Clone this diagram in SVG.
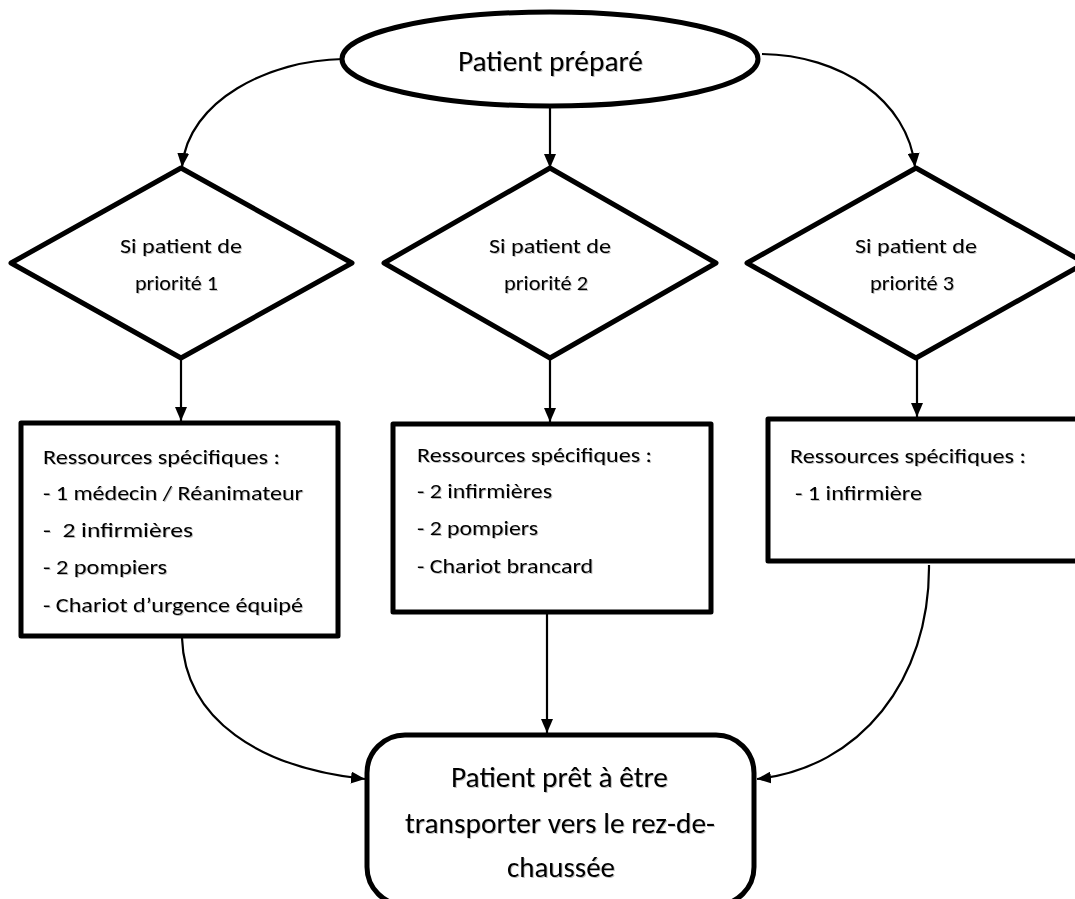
<svg xmlns="http://www.w3.org/2000/svg" width="1075" height="899" viewBox="0 0 1075 899">
  <defs>
    <marker id="arrow" viewBox="0 0 14 12" refX="14" refY="6" markerWidth="14" markerHeight="12" markerUnits="userSpaceOnUse" orient="auto">
      <path d="M0,0 L14,6 L0,12 z" fill="#000"/>
    </marker>
    <filter id="shadow" x="-5%" y="-20%" width="110%" height="140%">
      <feDropShadow dx="1" dy="1" stdDeviation="0.6" flood-color="#000" flood-opacity="0.25"/>
    </filter>
  </defs>
  <style>
    .shape { fill: #fff; stroke: #000; stroke-width: 5; stroke-linejoin: round; }
    .link-arrow { fill: none; stroke: #000; stroke-width: 2.2; marker-end: url(#arrow); }
    text { font-family: "Carlito", "Lato", "Open Sans", sans-serif; fill: #000; filter: url(#shadow); }
    .big { font-size: 28px; }
    .mid { font-size: 21px; }
    .item { font-size: 20.5px; }
  </style>
  <rect width="1075" height="899" fill="#fff"/>

  <!-- connectors -->
  <g id="connectors">
    <path class="link-arrow" d="M343,59 C270,60 188,100 182,167"/>
    <line class="link-arrow" x1="550" y1="106" x2="550" y2="168"/>
    <path class="link-arrow" d="M762,54 C840,55 908,100 915,167"/>
    <line class="link-arrow" x1="181" y1="360" x2="181" y2="421"/>
    <line class="link-arrow" x1="550" y1="358" x2="550" y2="422"/>
    <line class="link-arrow" x1="917" y1="358" x2="917" y2="417"/>
    <path class="link-arrow" d="M182,638 C185,720 260,768 365,779"/>
    <line class="link-arrow" x1="547" y1="613" x2="547" y2="733"/>
    <path class="link-arrow" d="M929,565 C930,680 860,768 757,779"/>
  </g>

  <g id="start">
    <ellipse class="shape" cx="550" cy="59" rx="208" ry="47"/>
    <text class="big" x="458" y="71" textLength="185" lengthAdjust="spacingAndGlyphs">Patient préparé</text>
  </g>

  <g id="decision1">
    <polygon class="shape" points="181,168 352,263 181,358 11,263"/>
    <text class="mid" x="120" y="253" textLength="122" lengthAdjust="spacingAndGlyphs">Si patient de</text>
    <text class="mid" x="135" y="290" textLength="83" lengthAdjust="spacingAndGlyphs">priorité 1</text>
  </g>
  <g id="decision2">
    <polygon class="shape" points="550,168 716,263 550,358 384,263"/>
    <text class="mid" x="489" y="253" textLength="122" lengthAdjust="spacingAndGlyphs">Si patient de</text>
    <text class="mid" x="504" y="290" textLength="84" lengthAdjust="spacingAndGlyphs">priorité 2</text>
  </g>
  <g id="decision3">
    <polygon class="shape" points="916,168 1085,263 916,358 747,263"/>
    <text class="mid" x="855" y="253" textLength="122" lengthAdjust="spacingAndGlyphs">Si patient de</text>
    <text class="mid" x="870" y="290" textLength="84" lengthAdjust="spacingAndGlyphs">priorité 3</text>
  </g>

  <g id="resources1">
    <rect class="shape" x="21" y="423" width="317" height="213"/>
    <text class="item" x="43" y="464" textLength="237" lengthAdjust="spacingAndGlyphs">Ressources spécifiques :</text>
    <text class="item" x="43" y="500" textLength="260" lengthAdjust="spacingAndGlyphs">- 1 médecin / Réanimateur</text>
    <text class="item" x="43" y="537" textLength="150" lengthAdjust="spacingAndGlyphs" xml:space="preserve">-  2 infirmières</text>
    <text class="item" x="43" y="574" textLength="124" lengthAdjust="spacingAndGlyphs">- 2 pompiers</text>
    <text class="item" x="43" y="612" textLength="260" lengthAdjust="spacingAndGlyphs">- Chariot d’urgence équipé</text>
  </g>
  <g id="resources2">
    <rect class="shape" x="393" y="424" width="318" height="188"/>
    <text class="item" x="417" y="462" textLength="235" lengthAdjust="spacingAndGlyphs">Ressources spécifiques :</text>
    <text class="item" x="417" y="498" textLength="135" lengthAdjust="spacingAndGlyphs">- 2 infirmières</text>
    <text class="item" x="417" y="535" textLength="121" lengthAdjust="spacingAndGlyphs">- 2 pompiers</text>
    <text class="item" x="417" y="573" textLength="176" lengthAdjust="spacingAndGlyphs">- Chariot brancard</text>
  </g>
  <g id="resources3">
    <rect class="shape" x="768" y="419" width="320" height="142"/>
    <text class="item" x="790" y="463" textLength="236" lengthAdjust="spacingAndGlyphs">Ressources spécifiques :</text>
    <text class="item" x="795" y="500" textLength="127" lengthAdjust="spacingAndGlyphs">- 1 infirmière</text>
  </g>

  <g id="end">
    <rect class="shape" x="367" y="735" width="387" height="170" rx="38" ry="38"/>
    <text class="big" x="451" y="787" textLength="217" lengthAdjust="spacingAndGlyphs">Patient prêt à être</text>
    <text class="big" x="405" y="833" textLength="310" lengthAdjust="spacingAndGlyphs">transporter vers le rez-de-</text>
    <text class="big" x="507" y="877" textLength="108" lengthAdjust="spacingAndGlyphs">chaussée</text>
  </g>
</svg>
